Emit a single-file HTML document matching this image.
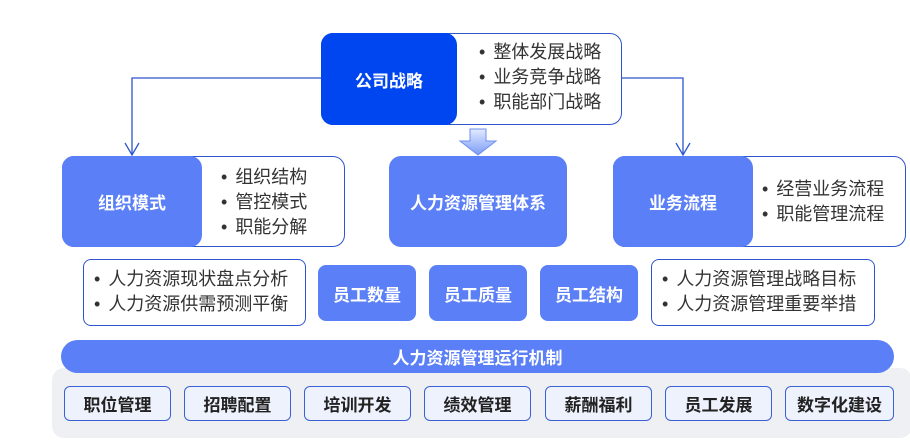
<!DOCTYPE html>
<html><head><meta charset="utf-8"><style>
body{margin:0;width:910px;height:440px;background:#fff;position:relative;overflow:hidden;font-family:"Liberation Sans","Noto Sans CJK SC",sans-serif}
div{box-sizing:border-box;position:absolute}
.b{background:#5a7ff6;color:#fff;font-weight:bold;display:flex;align-items:center;justify-content:center;border-radius:12px;font-size:17px}
.o{border:1.5px solid #2d55d0;border-radius:12px;background:#fff;color:#333;font-size:18px;line-height:25px}
.o ul{margin:0;padding:0;list-style:none}
.o li:before{content:"•";margin-right:8px;color:#333}
.k{top:386px;height:35px;width:107px;background:#edf2fd;border:1.5px solid #3a62d6;border-radius:6px;color:#222;font-weight:bold;font-size:17px;display:flex;align-items:center;justify-content:center}
</style></head><body>
<div style="left:52px;top:368px;width:860px;height:70px;background:#eef0f4;border-radius:12px"></div>
<svg style="position:absolute;left:0;top:0" width="910" height="440">
<polyline points="321,78 132,78 132,155" fill="none" stroke="#2d55d0" stroke-width="1.3"/>
<polyline points="125,143 132,155 139,143" fill="none" stroke="#2d55d0" stroke-width="1.3"/>
<polyline points="621,78 683,78 683,155" fill="none" stroke="#2d55d0" stroke-width="1.3"/>
<polyline points="676,143 683,155 690,143" fill="none" stroke="#2d55d0" stroke-width="1.3"/>
<defs><linearGradient id="g" x1="0" y1="0" x2="0" y2="1"><stop offset="0" stop-color="#e3ebff"/><stop offset="1" stop-color="#7b9cf6"/></linearGradient></defs>
<polygon points="470,129 486,129 486,141 496,141 478,155 460,141 470,141" fill="url(#g)" stroke="#6d8ff2" stroke-width="1"/>
</svg>
<div class="o" style="left:321px;top:33px;width:301px;height:92px;padding:6px 0 0 157px"><ul><li>整体发展战略</li><li>业务竞争战略</li><li>职能部门战略</li></ul></div>
<div class="b" style="left:321px;top:33px;width:136px;height:92px;background:#0046f0">公司战略</div>
<div class="o" style="left:62px;top:156px;width:283px;height:91px;padding:8px 0 0 158px"><ul><li>组织结构</li><li>管控模式</li><li>职能分解</li></ul></div>
<div class="b" style="left:62px;top:156px;width:140px;height:91px">组织模式</div>
<div class="b" style="left:389px;top:156px;width:178px;height:91px">人力资源管理体系</div>
<div class="o" style="left:613px;top:156px;width:293px;height:91px;padding:20px 0 0 148px"><ul><li>经营业务流程</li><li>职能管理流程</li></ul></div>
<div class="b" style="left:613px;top:156px;width:140px;height:91px">业务流程</div>
<div class="o" style="left:83px;top:259px;width:223px;height:67px;padding:7px 0 0 10px;border-radius:8px"><ul><li>人力资源现状盘点分析</li><li>人力资源供需预测平衡</li></ul></div>
<div class="b" style="left:318px;top:265px;width:98px;height:56px;border-radius:8px">员工数量</div>
<div class="b" style="left:429px;top:265px;width:98px;height:56px;border-radius:8px">员工质量</div>
<div class="b" style="left:540px;top:265px;width:98px;height:56px;border-radius:8px">员工结构</div>
<div class="o" style="left:651px;top:259px;width:224px;height:67px;padding:7px 0 0 10px;border-radius:8px"><ul><li>人力资源管理战略目标</li><li>人力资源管理重要举措</li></ul></div>
<div class="b" style="left:61px;top:340px;width:833px;height:33px;border-radius:17px">人力资源管理运行机制</div>
<div class="k" style="left:64px">职位管理</div>
<div class="k" style="left:184px">招聘配置</div>
<div class="k" style="left:304px">培训开发</div>
<div class="k" style="left:424px">绩效管理</div>
<div class="k" style="left:545px">薪酬福利</div>
<div class="k" style="left:665px">员工发展</div>
<div class="k" style="left:785px;width:109px">数字化建设</div>
</body></html>
